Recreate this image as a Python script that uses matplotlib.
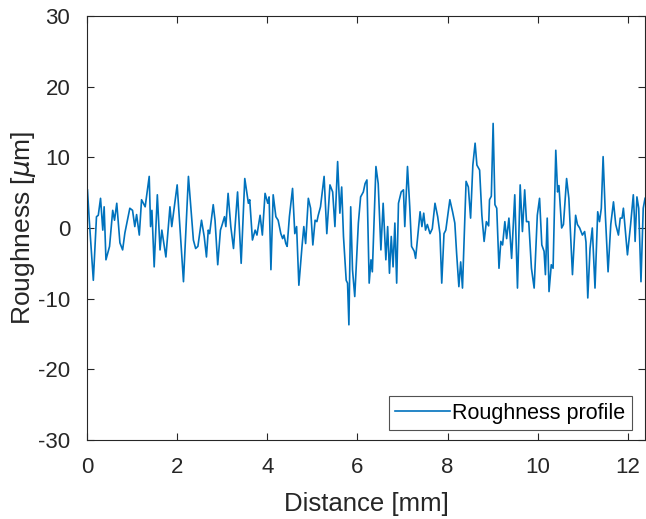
import matplotlib
matplotlib.use("Agg")
import matplotlib.pyplot as plt

# Surface roughness profile along the measured length
x_mm = [
    0.01, 0.05, 0.14, 0.21, 0.25, 0.30, 0.35, 0.38, 0.42, 0.50, 0.57, 0.61, 0.66, 0.73, 0.79, 0.84,
    0.95, 1.01, 1.06, 1.10, 1.16, 1.21, 1.29, 1.38, 1.41, 1.44, 1.49, 1.56, 1.62, 1.66, 1.75, 1.84,
    1.88, 2.00, 2.14, 2.25, 2.36, 2.41, 2.46, 2.54, 2.60, 2.65, 2.69, 2.72, 2.80, 2.84, 2.90, 2.96,
    3.00, 3.05, 3.08, 3.13, 3.19, 3.25, 3.30, 3.34, 3.42, 3.50, 3.58, 3.61, 3.67, 3.73, 3.77, 3.84,
    3.89, 3.95, 4.01, 4.04, 4.08, 4.13, 4.19, 4.24, 4.30, 4.34, 4.37, 4.41, 4.44, 4.49, 4.56, 4.61,
    4.65, 4.70, 4.77, 4.81, 4.85, 4.91, 4.96, 5.01, 5.06, 5.10, 5.13, 5.18, 5.26, 5.32, 5.39, 5.45,
    5.50, 5.56, 5.61, 5.65, 5.69, 5.75, 5.78, 5.81, 5.85, 5.89, 5.94, 6.02, 6.07, 6.13, 6.17, 6.21,
    6.26, 6.30, 6.33, 6.41, 6.46, 6.52, 6.57, 6.63, 6.67, 6.71, 6.75, 6.79, 6.83, 6.87, 6.91, 6.97,
    7.02, 7.05, 7.11, 7.16, 7.20, 7.26, 7.29, 7.34, 7.39, 7.43, 7.47, 7.51, 7.55, 7.61, 7.66, 7.72,
    7.78, 7.83, 7.87, 7.92, 7.96, 8.05, 8.11, 8.16, 8.20, 8.25, 8.29, 8.33, 8.41, 8.46, 8.51, 8.56,
    8.61, 8.65, 8.71, 8.76, 8.81, 8.86, 8.91, 8.93, 8.97, 9.01, 9.05, 9.09, 9.14, 9.18, 9.22, 9.27,
    9.31, 9.36, 9.42, 9.49, 9.55, 9.61, 9.66, 9.71, 9.75, 9.80, 9.86, 9.92, 9.99, 10.04, 10.09, 10.14,
    10.17, 10.21, 10.25, 10.30, 10.34, 10.40, 10.44, 10.47, 10.53, 10.57, 10.64, 10.69, 10.77, 10.84, 10.88, 10.93,
    10.99, 11.04, 11.07, 11.11, 11.16, 11.21, 11.27, 11.33, 11.37, 11.41, 11.45, 11.50, 11.56, 11.62, 11.68, 11.73,
    11.79, 11.83, 11.87, 11.90, 11.99, 12.06, 12.12, 12.14, 12.16, 12.20, 12.24, 12.29, 12.34, 12.38,
]
roughness_um = [
    5.4, 1.1, -7.4, 1.6, 1.8, 4.2, -0.3, 3.0, -4.5, -2.6, 2.5, 1.1, 3.5, -2.1, -3.1, -0.7,
    2.8, 2.5, 0.2, 1.9, -1.0, 4.0, 3.0, 7.3, 0.2, 2.5, -5.5, 4.7, -3.1, -0.3, -4.1, 3.0,
    0.2, 6.1, -7.6, 7.3, -1.7, -2.9, -2.6, 1.1, -1.2, -4.1, -0.3, -0.8, 3.3, 1.1, -5.2, -0.3,
    0.5, 1.6, 0.2, 4.9, 0.2, -2.9, 1.6, 5.1, -5.0, 7.0, 3.5, 4.0, -1.7, -0.3, -1.0, 1.8,
    -1.0, 4.9, 3.5, 4.4, -5.9, 4.7, 1.6, 1.1, -0.8, -1.5, -1.0, -2.2, -2.6, 1.6, 5.6, -0.8,
    0.2, -8.1, -2.6, 0.2, -2.2, 4.2, 2.8, -2.4, 1.1, 0.9, 1.8, 3.0, 7.3, -0.8, 6.1, 5.1,
    0.2, 9.4, 2.1, 5.8, -1.2, -7.4, -7.8, -13.7, 3.0, -5.9, -9.7, 0.7, 4.4, 5.1, 6.3, 6.8,
    -7.8, -4.5, -6.2, 8.7, 6.3, -3.1, 3.5, -4.5, 0.2, -6.4, -1.2, -5.5, 0.7, -7.8, 3.5, 5.1,
    5.4, 0.2, 8.7, 3.0, -2.6, -3.3, -4.3, -1.0, 2.3, 0.2, 2.1, -0.3, 0.5, -0.8, -0.1, 3.5,
    1.6, -0.8, -7.8, -0.8, -0.3, 4.0, 2.3, 0.7, -3.6, -8.3, -4.8, -8.5, 6.6, 5.8, 1.4, 8.9,
    12.0, 8.9, 8.2, 1.8, -1.9, 0.9, 0.3, 4.0, 4.5, 14.8, 3.3, 2.8, -5.7, -1.9, -2.4, 0.9,
    -1.5, 1.4, -4.3, 4.7, -8.5, 6.1, -0.5, 5.4, 0.9, 0.9, -5.7, -8.5, 1.8, 4.2, -2.4, -3.3,
    -6.6, 1.4, -9.0, -5.2, -5.7, 11.0, 5.1, 6.0, 0.0, 0.5, 7.0, 4.2, -6.6, 1.8, 0.5, 0.0,
    -1.0, -0.5, -2.0, -9.9, -2.9, 0.0, -8.5, 2.3, 0.9, 2.8, 10.1, 1.8, -6.2, 0.5, 3.7, 0.5,
    -1.0, 1.4, 1.4, 2.8, -3.8, 0.5, 4.7, 2.0, -1.9, 4.4, 2.8, -7.6, 2.8, 4.2,
]

x_ticks = [0, 2, 4, 6, 8, 10, 12]
y_ticks = [-30, -20, -10, 0, 10, 20, 30]

plt.rcParams["font.family"] = ["Liberation Sans", "DejaVu Sans"]
plt.rcParams["mathtext.fontset"] = "dejavusans"
plt.rcParams["axes.unicode_minus"] = False

fig = plt.figure(figsize=(6.46, 5.19), dpi=100)
ax = fig.add_axes([0.1347, 0.1522, 0.8638, 0.8170])

ax.plot(x_mm, roughness_um, color="#0072BD", linewidth=1.2, label="Roughness profile")

ax.set_xlim(0, 12.38)
ax.set_ylim(-30, 30)
ax.set_xticks(x_ticks)
ax.set_yticks(y_ticks)
ax.tick_params(axis="both", direction="in", length=5, width=0.8, labelsize=16,
               colors="#262626", top=True, right=True)
ax.tick_params(axis="y", pad=12)
ax.tick_params(axis="x", pad=12)
for s in ax.spines.values():
    s.set_linewidth(0.8)
    s.set_color("#262626")

ax.set_xlabel("Distance [mm]", fontsize=18.5, color="#262626", labelpad=10)
ax.set_ylabel(r"Roughness [$\mu$m]", fontsize=19, color="#262626", labelpad=0)

leg = ax.legend(loc="lower right", bbox_to_anchor=(0.9767, 0.0236), borderaxespad=0,
                fontsize=15.5, fancybox=False, frameon=True, handlelength=2.55,
                handletextpad=0.1, borderpad=0.3)
leg.get_frame().set_edgecolor("#262626")
leg.get_frame().set_linewidth(0.8)

fig.savefig("out.png", dpi=100)
